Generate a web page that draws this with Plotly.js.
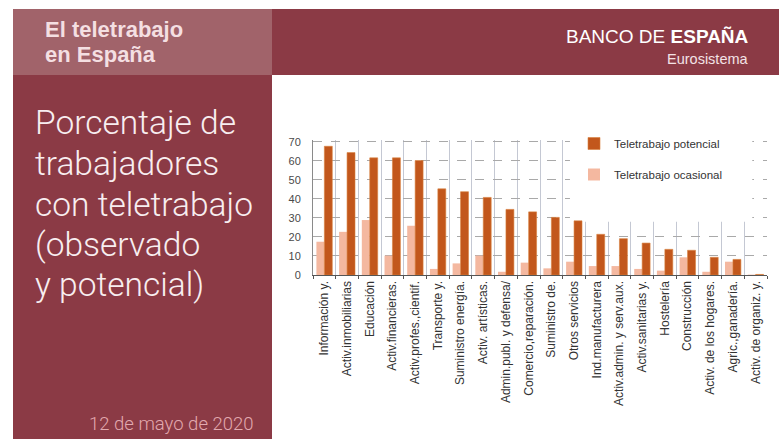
<!DOCTYPE html>
<html>
<head>
<meta charset="utf-8">
<script src="https://cdn.plot.ly/plotly-3.0.1.min.js"></script>
<style>
  html, body { margin: 0; padding: 0; background: #ffffff; }
  #chart { width: 779px; height: 439px; }
</style>
</head>
<body>
<div id="chart"></div>
<script>
// ---- Data ----
const categories = [
  "Información y.", "Activ.inmobiliarias", "Educación", "Activ.financieras.",
  "Activ.profes.,cientif.", "Transporte y.", "Suministro energía.", "Activ. artísticas.",
  "Admin.publ. y defensa/", "Comercio,reparación.", "Suministro de.", "Otros servicios",
  "Ind.manufacturera", "Activ.admin. y serv.aux.", "Activ.sanitarias y.", "Hostelería",
  "Construcción", "Activ. de los hogares.", "Agric.,ganadería.", "Activ. de organiz. y."
];
const potencial = [67.7, 64.4, 61.6, 61.6, 60.2, 45.3, 43.8, 40.8, 34.5, 33.2,
                   30.3, 28.5, 21.4, 19.1, 16.8, 13.5, 13.0, 9.3, 8.2, 0.3];
const ocasional = [17.5, 22.7, 28.9, 10.2, 25.9, 3.2, 6.1, 10.2, 1.7, 6.5,
                   3.5, 7.0, 4.7, 4.7, 3.2, 2.3, 9.3, 1.7, 7.0, 0.2];
const seriesNames = ["Teletrabajo potencial", "Teletrabajo ocasional"];
const yTicks = [0, 10, 20, 30, 40, 50, 60, 70];

const headerLines = ["El teletrabajo", "en España"];
const bankText = "BANCO DE <b>ESPAÑA</b>";
const bankSub = "Eurosistema";
const titleLines = ["Porcentaje de", "trabajadores", "con teletrabajo", "(observado", "y potencial)"];
const dateText = "12 de mayo de 2020";

// ---- Layout helpers (pixel -> paper) ----
const W = 779, H = 439;
const L = 313, R = 767, T = 140, B = 275;
const fx = px => (px - L) / (R - L);
const fy = py => (B - py) / (B - T);

const colDark = "#8b3a45";
const colLight = "#a1636a";
const colPot = "#c2571c";
const colOca = "#f4b8a0";

const traces = [
  {
    type: "bar", name: seriesNames[1], x: categories, y: ocasional,
    marker: { color: colOca, line: { width: 0 } },
    legendgroup: "b", legendrank: 2, hoverinfo: "skip"
  },
  {
    type: "bar", name: seriesNames[0], x: categories, y: potencial,
    marker: { color: colPot, line: { color: "#d9823e", width: 0.6 } },
    legendgroup: "a", legendrank: 1, hoverinfo: "skip"
  }
];

const headerCenters = [29, 54.5];
const titleCenters = [122.5, 163.5, 204, 244.5, 284];
const annotations = [
  { text: bankText, xref: "paper", yref: "paper", x: fx(751), y: fy(36), xanchor: "right", yanchor: "middle",
    showarrow: false, font: { family: "Liberation Sans, Arial, sans-serif", size: 19, color: "#ffffff" } },
  { text: bankSub, xref: "paper", yref: "paper", x: fx(751), y: fy(59), xanchor: "right", yanchor: "middle",
    showarrow: false, font: { family: "Liberation Sans, Arial, sans-serif", size: 14.5, color: "#f3e2e5" } },
  { text: dateText, xref: "paper", yref: "paper", x: fx(256), y: fy(424), xanchor: "right", yanchor: "middle",
    showarrow: false, font: { family: "Roboto, Liberation Sans, sans-serif", size: 18.5, color: "#e2a9af", weight: 300 } }
];
headerLines.forEach((t, i) => {
  annotations.push({ text: t, xref: "paper", yref: "paper", x: fx(43), y: fy(headerCenters[i]),
    xanchor: "left", yanchor: "middle", showarrow: false,
    font: { family: "Liberation Sans, Arial, sans-serif", size: 22, color: "#f4dfe2", weight: 700 } });
});
titleLines.forEach((t, i) => {
  annotations.push({ text: t, xref: "paper", yref: "paper", x: fx(33), y: fy(titleCenters[i]),
    xanchor: "left", yanchor: "middle", showarrow: false,
    font: { family: "Roboto, Liberation Sans, sans-serif", size: 33.5, color: "#f8eef0", weight: 300 } });
});

const shapes = [
  { type: "rect", xref: "paper", yref: "paper", layer: "below", x0: fx(13), x1: fx(272), y0: fy(439), y1: fy(9),
    fillcolor: colDark, line: { width: 0 } },
  { type: "rect", xref: "paper", yref: "paper", layer: "below", x0: fx(272), x1: fx(779), y0: fy(75), y1: fy(9),
    fillcolor: colDark, line: { width: 0 } },
  { type: "rect", xref: "paper", yref: "paper", layer: "below", x0: fx(13), x1: fx(272), y0: fy(75), y1: fy(9),
    fillcolor: colLight, line: { width: 0 } },
  // white area behind the legend, covering grid
  { type: "rect", xref: "x", yref: "y", layer: "between", x0: 10.82, x1: 18.85, y0: 28, y1: 72,
    fillcolor: "#ffffff", line: { width: 0 } }
];

const layout = {
  width: W, height: H,
  margin: { l: L, r: W - R, t: T, b: H - B, pad: 0 },
  paper_bgcolor: "#ffffff",
  plot_bgcolor: "rgba(0,0,0,0)",
  barmode: "group",
  bargap: 0.3,
  bargroupgap: 0,
  showlegend: true,
  legend: {
    x: fx(574), y: fy(129), xanchor: "left", yanchor: "top",
    bgcolor: "rgba(0,0,0,0)", borderwidth: 0,
    traceorder: "grouped", tracegroupgap: 12,
    font: { family: "Liberation Sans, Arial, sans-serif", size: 11.5, color: "#333333" }
  },
  xaxis: {
    type: "category",
    tickson: "boundaries",
    showgrid: true, gridcolor: "#c4c8d3", gridwidth: 1,
    showline: true, linecolor: "#555555", linewidth: 1.2,
    ticks: "outside", ticklen: 3, tickcolor: "#555555",
    tickangle: -90,
    tickfont: { family: "Liberation Sans, Arial, sans-serif", size: 12, color: "#333333" },
    fixedrange: true
  },
  yaxis: {
    range: [0, 71],
    tickvals: yTicks,
    ticktext: yTicks.map(String),
    showgrid: true, gridcolor: "#a9a9a9", griddash: "dash", gridwidth: 1,
    zeroline: false,
    showline: true, linecolor: "#8a8a8a", linewidth: 1,
    ticks: "", ticklabelstandoff: 9,
    tickfont: { family: "Liberation Sans, Arial, sans-serif", size: 11, color: "#4a4a4a" },
    fixedrange: true
  },
  shapes: shapes,
  annotations: annotations,
  hovermode: false
};

Plotly.newPlot("chart", traces, layout, { displayModeBar: false, staticPlot: true });
</script>
</body>
</html>
